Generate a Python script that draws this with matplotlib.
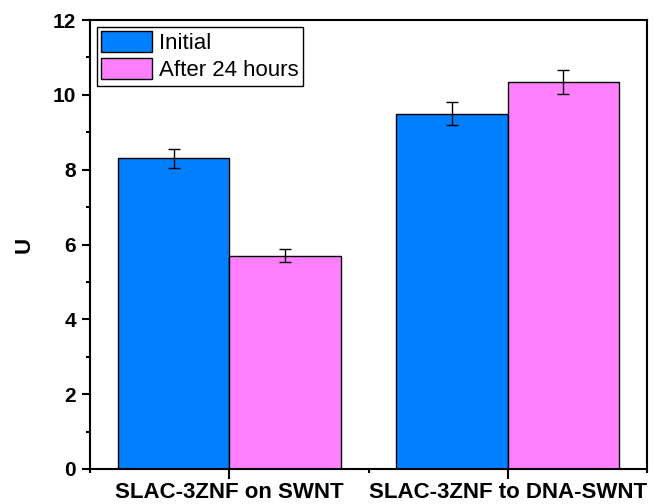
import numpy as np
import matplotlib.pyplot as plt
from matplotlib.ticker import MultipleLocator

plt.rcParams['font.family'] = ['Liberation Sans', 'DejaVu Sans']

groups = ["SLAC-3ZNF on SWNT", "SLAC-3ZNF to DNA-SWNT"]
initial = [8.3, 9.5]
initial_err = [0.26, 0.30]
after24 = [5.7, 10.35]
after24_err = [0.18, 0.32]

x = np.arange(len(groups))
w = 0.4

fig = plt.figure(figsize=(6.53, 5.04), dpi=100)
ax = fig.add_axes([90 / 653, 35 / 504, 557 / 653, 449 / 504])

err_kw = dict(ecolor='black', elinewidth=1, capsize=4.5, capthick=1)
ax.bar(x - w / 2, initial, w, yerr=initial_err, color='#0080FF',
       edgecolor='black', linewidth=1, label='Initial', error_kw=err_kw)
ax.bar(x + w / 2, after24, w, yerr=after24_err, color='#FF80FF',
       edgecolor='black', linewidth=1, label='After 24 hours', error_kw=err_kw)

ax.set_xlim(-0.5, 1.5)
ax.set_ylim(0, 12)
ax.set_xticks(x)
ax.set_xticklabels(groups, fontsize=16, fontweight='bold')
ax.xaxis.set_minor_locator(MultipleLocator(0.5))
ax.yaxis.set_major_locator(MultipleLocator(2))
ax.yaxis.set_minor_locator(MultipleLocator(1))
for lbl in ax.get_yticklabels():
    lbl.set_fontsize(15)
    lbl.set_fontweight('bold')

ax.tick_params(which='major', direction='out', length=6, width=1.5, pad=4)
ax.tick_params(which='minor', direction='out', length=3, width=1.5)
ax.tick_params(axis='x', which='major', length=7, pad=2)
ax.tick_params(top=False, right=False)
for s in ax.spines.values():
    s.set_linewidth(1.5)

ax.set_ylabel('U', fontsize=16, fontweight='bold', labelpad=13)

ax.legend(loc='upper left', fontsize=16, frameon=True, fancybox=False,
          edgecolor='black', framealpha=1, handlelength=2.3, handleheight=1.05,
          borderpad=0.2, labelspacing=0.2, handletextpad=0.3,
          borderaxespad=0.3)

fig.savefig('out.png', dpi=100)
